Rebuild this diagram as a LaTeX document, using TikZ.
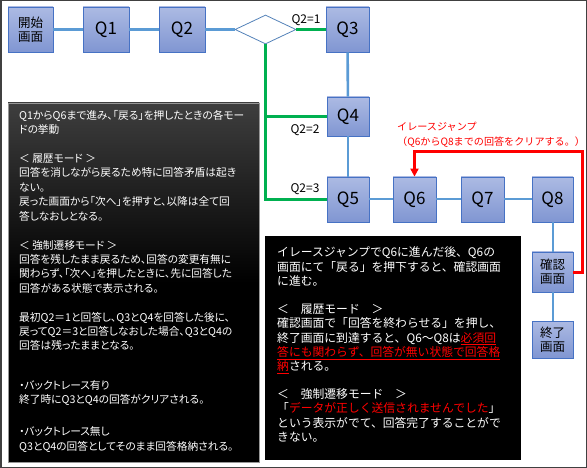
\documentclass[tikz,border=0pt]{standalone}
\usepackage{fontspec}
\setmainfont{Noto Sans CJK JP}
\newfontfamily\leftfont[RawFeature=+palt]{Noto Sans CJK JP}
\usetikzlibrary{shapes.geometric,arrows.meta}
\definecolor{qborder}{RGB}{70,114,196}
\definecolor{qtop}{RGB}{172,186,227}
\definecolor{qbot}{RGB}{128,150,210}
\definecolor{conn}{RGB}{91,155,213}
\definecolor{grn}{RGB}{0,176,80}
\definecolor{dborder}{RGB}{84,130,185}
\definecolor{framec}{RGB}{64,64,64}
\definecolor{boxtop}{RGB}{62,62,62}
\definecolor{boxedge}{RGB}{150,150,150}
\begin{document}
\begin{tikzpicture}[x=1pt,y=-1pt,
  qbox/.style={draw=qborder, line width=0.8pt, top color=qtop, bottom color=qbot,
    inner sep=0pt, minimum width=42pt, minimum height=45pt,
    font=\fontsize{17}{20}\selectfont},
  sbox/.style={qbox, font=\fontsize{12.5}{14}\selectfont, align=center},
  bl/.style={conn, line width=3pt},
  bls/.style={conn, line width=2pt},
  gr/.style={grn, line width=3pt},
  lbl/.style={font=\fontsize{12}{14}\selectfont, inner sep=0pt},
  ]
\useasboundingbox (0,0) rectangle (587,468);
\draw[framec, line width=1.5pt] (0.75,0.75) rectangle (586.25,467.25);

% text boxes
\path[draw=boxedge, line width=0.6pt, top color=boxtop, bottom color=black, middle color=black]
  (8,103) rectangle (259,462);
\fill[black] (265,236) rectangle (521,460);

% flow nodes
\node[sbox, minimum width=45pt] (start) at (30.5,29.5) {開始\\画面};
\node[qbox, minimum width=46pt] (q1) at (106,29.5) {Q1};
\node[qbox, minimum width=46pt] (q2) at (182,29.5) {Q2};
\node[diamond, draw=dborder, line width=0.8pt, fill=white, minimum width=61pt,
      minimum height=29pt, inner sep=0pt] (dia) at (265.5,29.5) {};
\node[qbox, minimum width=43pt] (q3) at (347.5,29.5) {Q3};
\node[qbox, minimum height=39pt] (q4) at (348,116.5) {Q4};
\node[qbox] (q5) at (348,199.5) {Q5};
\node[qbox, minimum width=43pt] (q6) at (414.5,199.5) {Q6};
\node[qbox, minimum width=43pt] (q7) at (482.5,199.5) {Q7};
\node[qbox, minimum width=41pt] (q8) at (552.5,199.5) {Q8};
\node[sbox, minimum width=41pt, minimum height=40pt] (conf) at (552.5,272) {確認\\画面};
\node[sbox, minimum width=41pt, minimum height=37pt] (fin) at (552.5,339.5) {終了\\画面};

% blue connectors
\draw[bl] (start) -- (q1);
\draw[bl] (q1) -- (q2);
\draw[bl] (q2) -- (dia.west);
\draw[bl, line width=2.6pt] (q3) -- (q4);
\draw[bl, line width=2.6pt] (q4) -- (q5);
\draw[bls] (q5) -- (q6);
\draw[bls] (q6) -- (q7);
\draw[bls] (q7) -- (q8);
\draw[bls] (q8) -- (conf);
\draw[bls] (conf) -- (fin);

% green branches
\draw[gr] (dia.east) -- (q3.west);
\draw[gr] (dia.south) -- (dia.south |- q5.west) -- (q5.west);
\draw[gr] (dia.south |- q4.west) -- (q4.west);
\node[lbl] (l1) at (306,20) {Q2=1};
\node[lbl] (l2) at (305,130) {Q2=2};
\node[lbl] (l3) at (305,189) {Q2=3};

% red erase jump
\coordinate (rc) at (582,152);
\draw[red, line width=3pt, -{Triangle[length=8pt,width=8pt]}]
  (conf.east) -| (rc) -| (q6.north);
\node[anchor=north west, inner sep=0pt, align=left, text=red,
      font=\fontsize{10.1}{15}\selectfont] (ej) at (397,121.5)
  {イレースジャンプ\\（Q6からQ8までの回答をクリアする。）};

% left text
\node[anchor=north west, inner sep=0pt, align=left, text=white,
      font=\leftfont\fontsize{10.7}{14.4}\selectfont] (lt) at (19,110)
{Q1からQ6まで進み、「戻る」を押したときの各モー\\
ドの挙動\\[14.5pt]
＜ 履歴モード ＞\\
回答を消しながら戻るため特に回答矛盾は起き\\
ない。\\
戻った画面から「次へ」を押すと、以降は全て回\\
答しなおしとなる。\\[14.5pt]
＜ 強制遷移モード ＞\\
回答を残したまま戻るため、回答の変更有無に\\
関わらず、「次へ」を押したときに、先に回答した\\
回答がある状態で表示される。\\[14.5pt]
最初Q2＝1と回答し、Q3とQ4を回答した後に、\\
戻ってQ2＝3と回答しなおした場合、Q3とQ4の\\
回答は残ったままとなる。\\[25pt]
・バックトレース有り\\
終了時にQ3とQ4の回答がクリアされる。\\[17.5pt]
・バックトレース無し\\
Q3とQ4の回答としてそのまま回答格納される。};

% right text
\node[anchor=north west, inner sep=0pt, align=left, text=white,
      font=\fontsize{11.8}{14.4}\selectfont] (rt) at (277,246.5)
{イレースジャンプでQ6に進んだ後、Q6の\\
画面にて「戻る」を押下すると、確認画面\\
に進む。\\[13.5pt]
＜　履歴モード　＞\\
確認画面で「回答を終わらせる」を押し、\\
終了画面に到達すると、Q6～Q8は\textcolor{red}{\underline{必須回}}\\
\textcolor{red}{\underline{答にも関わらず、回答が無い状態で回答格}}\\
\textcolor{red}{\underline{納}}される。\\[13pt]
＜　強制遷移モード　＞\\
「\textcolor{red}{データが正しく送信されませんでした}」\\
という表示がでて、回答完了することがで\\
きない。};
\end{tikzpicture}
\end{document}
